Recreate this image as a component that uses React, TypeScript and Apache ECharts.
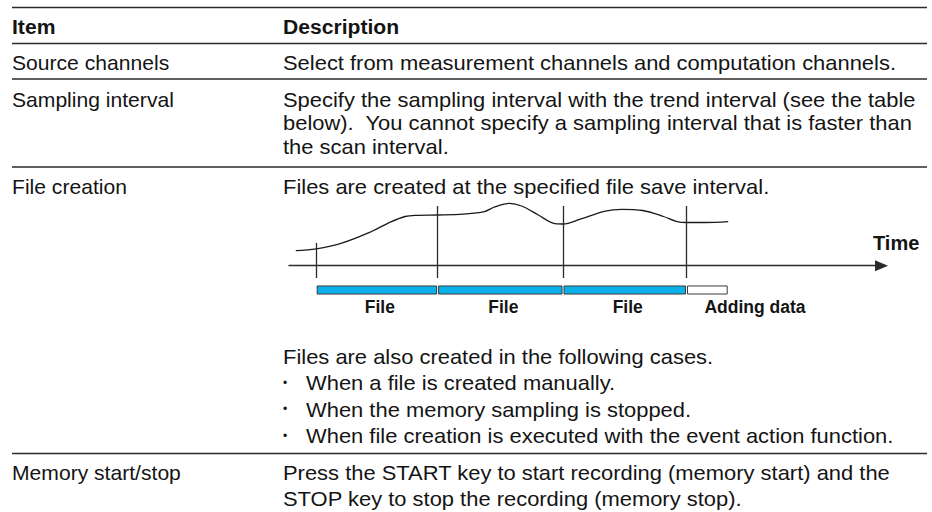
import React, { useEffect, useRef } from "react";
import * as echarts from "echarts";

// ---- Table content ----
const headerItem = "Item";
const headerDesc = "Description";
const itemNames = ["Source channels", "Sampling interval", "File creation", "Memory start/stop"];
const sourceText = ["Select from measurement channels and computation channels."];
const samplingText = [
  "Specify the sampling interval with the trend interval (see the table",
  "below).  You cannot specify a sampling interval that is faster than",
  "the scan interval.",
];
const fileText = ["Files are created at the specified file save interval."];
const fileCasesIntro = "Files are also created in the following cases.";
const fileCases = [
  "When a file is created manually.",
  "When the memory sampling is stopped.",
  "When file creation is executed with the event action function.",
];
const memoryText = [
  "Press the START key to start recording (memory start) and the",
  "STOP key to stop the recording (memory stop).",
];

// ---- Diagram data (time units, signal units) ----
const curveT = [-1.65, 0, 2.13, 4.49, 5.84, 7.2, 8.21, 9.84, 11.92, 13.62, 14.47, 15.65, 16.65, 18.0, 19.19, 20.0, 21.39, 23.42, 24.77, 26.46, 28.14, 29.16, 30, 31.53, 33.38];
const curveV = [2.5, 2.8, 3.8, 5.7, 7.1, 8.2, 8.4, 8.45, 8.6, 9.0, 9.8, 10.4, 9.95, 8.45, 7.1, 6.95, 7.75, 9.1, 9.4, 9.2, 8.2, 7.4, 7.2, 7.2, 7.35];
const markerT = [0, 9.84, 20.0, 30];
const markerTop = [3.8, 9.95, 9.95, 9.95];
const markerBottom = -2.05;
const segStart = [0, 9.84, 20.0, 30];
const segEnd = [9.84, 20.0, 30, 33.38];
const segLabel = ["File", "File", "File", "Adding data"];
const segComplete = [true, true, true, false];
const axisName = "Time";

const FONT = '"Liberation Sans", Arial, Helvetica, sans-serif';
const TXT = "#141414";
const RULE = "#2a2a2a";

export default function App() {
  const ref = useRef<HTMLDivElement>(null);
  useEffect(() => {
    if (!ref.current) return;
    const chart = echarts.init(ref.current, undefined, { renderer: "svg" });

    const size = 20.5;
    const reg = `${size}px ${FONT}`;
    const bold = `bold ${size}px ${FONT}`;
    const colL = 12;
    const colR = 283;
    const sxL = 1.03;
    const sxR = 1.07;
    const txt = (s: string, x: number, y: number, sx: number, font = reg) => ({
      type: "text",
      x,
      y,
      scaleX: sx,
      silent: true,
      style: { text: s, font, fill: TXT, align: "left", verticalAlign: "middle" },
    });
    const rule = (y: number) => ({
      type: "line",
      silent: true,
      shape: { x1: 12, y1: y, x2: 927, y2: y },
      style: { stroke: RULE, lineWidth: 1.4 },
    });

    const graphics: any[] = [
      rule(7.5),
      rule(43.5),
      rule(79),
      rule(167),
      rule(453.5),
      txt(headerItem, colL, 27, sxL, bold),
      txt(headerDesc, colR, 27, sxL, bold),
      txt(itemNames[0], colL, 63, sxL),
      txt(sourceText[0], colR, 63, sxR),
      txt(itemNames[1], colL, 99.4, sxL),
      ...samplingText.map((s, i) => txt(s, colR, 99.4 + i * 23.5, sxR)),
      txt(itemNames[2], colL, 187, sxL),
      txt(fileText[0], colR, 187, sxR),
      txt(fileCasesIntro, colR, 357, sxR),
      ...fileCases.map((s, i) => txt(s, 306, 383 + i * 26.3, sxR)),
      ...fileCases.map((_, i) => ({
        type: "text",
        x: 285,
        y: 383 + i * 26.3,
        silent: true,
        style: { text: "•", font: `12px ${FONT}`, fill: TXT, align: "center", verticalAlign: "middle" },
      })),
      txt(itemNames[3], colL, 473, sxL),
      ...memoryText.map((s, i) => txt(s, colR, 473 + i * 25.5, sxR)),
      {
        type: "text",
        x: 873,
        y: 243,
        silent: true,
        style: { text: axisName, font: `bold 20px ${FONT}`, fill: TXT, align: "left", verticalAlign: "middle" },
      },
    ];

    const option: any = {
      animation: false,
      backgroundColor: "#ffffff",
      grid: { left: 289, right: 50.5, top: 193.7, bottom: 210.3, containLabel: false },
      xAxis: {
        type: "value",
        min: -2.2,
        max: 45.8,
        axisLine: {
          show: true,
          onZero: true,
          symbol: ["none", "triangle"],
          symbolSize: [11, 13],
          lineStyle: { color: RULE, width: 1.4 },
        },
        axisTick: { show: false },
        axisLabel: { show: false },
        splitLine: { show: false },
      },
      yAxis: {
        type: "value",
        min: -6,
        max: 12,
        axisLine: { show: false },
        axisTick: { show: false },
        axisLabel: { show: false },
        splitLine: { show: false },
      },
      graphic: graphics,
      series: [
        {
          type: "line",
          data: curveT.map((t, i) => [t, curveV[i]]),
          smooth: 0.35,
          showSymbol: false,
          symbol: "none",
          silent: true,
          lineStyle: { color: "#1a1a1a", width: 1.3 },
          markLine: {
            silent: true,
            symbol: "none",
            label: { show: false },
            lineStyle: { color: RULE, width: 1.3, type: "solid" },
            data: markerT.map((t, i) => [
              { coord: [t, markerBottom] },
              { coord: [t, markerTop[i]] },
            ]),
          },
        },
        {
          type: "custom",
          silent: true,
          data: segStart.map((s, i) => [s, segEnd[i], i]),
          renderItem: (params: any, api: any) => {
            const s = api.value(0);
            const e = api.value(1);
            const i = api.value(2);
            const p0 = api.coord([s, -3.38]);
            const p1 = api.coord([e, -4.72]);
            const complete = segComplete[i];
            const label = segLabel[i];
            const cx = (p0[0] + p1[0]) / 2;
            return {
              type: "group",
              children: [
                {
                  type: "rect",
                  shape: { x: p0[0] + 1, y: p0[1], width: p1[0] - p0[0] - 2, height: p1[1] - p0[1] },
                  style: { fill: complete ? "#0AB0EA" : "#ffffff", stroke: "#3a3a3a", lineWidth: 1 },
                },
                {
                  type: "text",
                  x: complete ? cx + 3 : p0[0] + 18,
                  y: p1[1] + 12.5,
                  style: {
                    text: label,
                    font: `bold 17.5px ${FONT}`,
                    fill: TXT,
                    align: complete ? "center" : "left",
                    verticalAlign: "middle",
                  },
                },
              ],
            };
          },
        },
      ],
    };
    chart.setOption(option);
    return () => chart.dispose();
  }, []);
  return (
    <div
      ref={ref}
      style={{ position: "absolute", left: 0, top: 0, width: 932, height: 512, background: "#fff" }}
    />
  );
}
